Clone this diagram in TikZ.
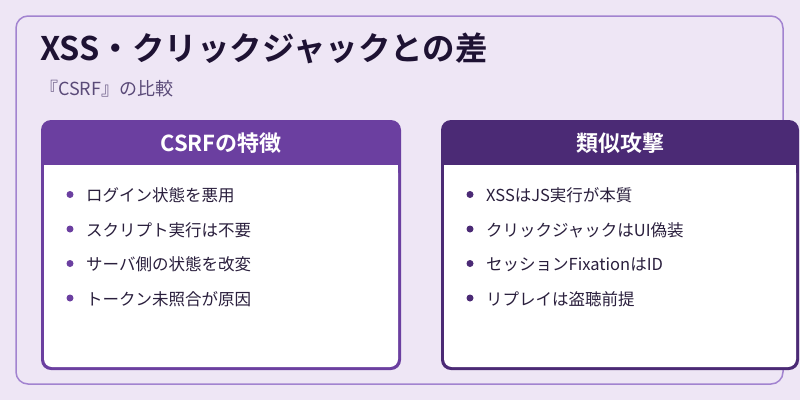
\documentclass[tikz,border=0pt]{standalone}
\usepackage{fontspec}
\newfontfamily\cjk{Noto Sans CJK JP}
\newfontfamily\cjkb{Noto Sans CJK JP Bold}
\definecolor{bg}{HTML}{EEE6F5}
\definecolor{frame}{HTML}{A283D0}
\definecolor{hl}{HTML}{6B3FA0}
\definecolor{hr}{HTML}{4B2A75}
\definecolor{ttl}{HTML}{1E1233}
\definecolor{sub}{HTML}{5A4A78}
\definecolor{txt}{HTML}{2A1F3D}
\tikzset{
 bul/.style={circle,inner sep=0pt,minimum size=7pt},
 item/.style={anchor=west,font=\cjk\fontsize{16.5}{18}\selectfont,text=txt,inner sep=0pt},
 head/.style={font=\cjkb\fontsize{22}{24}\selectfont,text=white}
}
\begin{document}
\begin{tikzpicture}[x=1pt,y=-1pt]
\fill[bg] (0,0) rectangle (800,400);
\useasboundingbox (0,0) rectangle (800,400);
\draw[frame,line width=1.5pt,rounded corners=12pt] (16,16) rectangle (783,384);
\node[anchor=west,inner sep=0pt,text=ttl,font=\cjkb\fontsize{32.5}{34}\selectfont] (title) at (40,48) {XSS・クリックジャックとの差};
\node[anchor=west,inner sep=0pt,text=sub,font=\cjk\fontsize{18}{20}\selectfont] (subt) at (40,89) {『CSRF』の比較};
% left card
\fill[hl,rounded corners=10pt] (41,120) rectangle (401,370);
\fill[white,rounded corners=8pt] (44,165) rectangle (398,367);
\fill[white] (44,165) rectangle (398,180);
\node[head] (hL) at (221,143) {CSRFの特徴};
% right card
\fill[hr,rounded corners=10pt] (441,120) rectangle (799,370);
\fill[white,rounded corners=8pt] (444,165) rectangle (796,367);
\fill[white] (444,165) rectangle (796,180);
\node[head] (hR) at (620,143) {類似攻撃};
\foreach \t [count=\i] in {ログイン状態を悪用,スクリプト実行は不要,サーバ側の状態を改変,トークン未照合が原因}{
 \node[bul,fill=hl] (bl\i) at (70,{160+34.5*\i}) {};
 \node[item] (tl\i) at (86,{161+34.5*\i}) {\t};
}
\foreach \t [count=\i] in {XSSはJS実行が本質,クリックジャックはUI偽装,セッションFixationはID,リプレイは盗聴前提}{
 \node[bul,fill=hr] (br\i) at (470,{160+34.5*\i}) {};
 \node[item] (tr\i) at (486,{161+34.5*\i}) {\t};
}
\end{tikzpicture}
\end{document}
